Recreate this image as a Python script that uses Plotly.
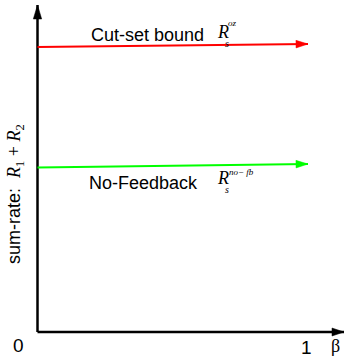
import math
import plotly.graph_objects as go

# ---- data ----
beta = [0, 1]
cutset_bound = [2.85, 2.88]
no_feedback = [1.645, 1.68]
series_names = ["Cut-set bound", "No-Feedback"]
tick_labels = ["0", "1"]

W, H = 344, 358
X0_PX, X_SCALE = 37.5, 270.5     # pixel of x=0, pixels per unit
Y0_PX, Y_SCALE = 332.0, 100.0    # pixel of y=0, pixels per unit


def dx(px):
    return (px - X0_PX) / X_SCALE


def dy(py):
    return (Y0_PX - py) / Y_SCALE


def head(xs, ys, length, half):
    """filled arrowhead polygon at the last point of (xs, ys), sized in pixels"""
    x1p, y1p = X0_PX + xs[-1] * X_SCALE, Y0_PX - ys[-1] * Y_SCALE
    x0p, y0p = X0_PX + xs[-2] * X_SCALE, Y0_PX - ys[-2] * Y_SCALE
    d = math.hypot(x1p - x0p, y1p - y0p)
    ux, uy = (x1p - x0p) / d, (y1p - y0p) / d
    bx, by = x1p - ux * length, y1p - uy * length
    pts = [(x1p, y1p), (bx - uy * half, by + ux * half), (bx + uy * half, by - ux * half), (x1p, y1p)]
    return [dx(p[0]) for p in pts], [dy(p[1]) for p in pts]


fig = go.Figure()


def arrow_line(xs, ys, col, width, length, half, name=None):
    fig.add_trace(go.Scatter(x=xs, y=ys, mode="lines", name=name,
                             line=dict(color=col, width=width),
                             hoverinfo="skip", showlegend=False))
    hx, hy = head(xs, ys, length, half)
    fig.add_trace(go.Scatter(x=hx, y=hy, mode="lines", fill="toself", fillcolor=col,
                             line=dict(color=col, width=0.5),
                             hoverinfo="skip", showlegend=False))


# axes
arrow_line([0, dx(344)], [0, 0], "black", 2.5, 12, 4)
arrow_line([0, 0], [0, dy(5)], "black", 2.5, 14, 4.2)

# data lines
arrow_line(beta, cutset_bound, "#ff0000", 2.2, 12, 3.8, series_names[0])
arrow_line(beta, no_feedback, "#00ff00", 2.2, 12, 3.8, series_names[1])

SANS = "Liberation Sans, Arial, sans-serif"
SERIF = "Liberation Serif, Times New Roman, serif"

ann = []


def text(s, xp, yp, size=18, family=SANS, xanchor="left", angle=0):
    ann.append(dict(x=dx(xp), y=dy(yp), xref="x", yref="y", text=s, showarrow=False,
                    xanchor=xanchor, yanchor="middle", textangle=angle,
                    font=dict(family=family, size=size, color="black")))


text(series_names[0], 89, 35)
text(series_names[1], 87, 183)

# math labels R_s^{...}
text("<i>R</i>", 215, 32, size=18, family=SERIF)
text("<i>s</i>", 223, 43, size=10, family=SERIF)
text("<i>oz</i>", 226, 23, size=9, family=SERIF)

text("<i>R</i>", 215, 178, size=18, family=SERIF)
text("<i>s</i>", 223, 189, size=10, family=SERIF)
text("<i>no\u2212 fb</i>", 227, 172, size=9, family=SERIF)

# ticks
text(tick_labels[0], 18, 345, size=19, xanchor="center")
text(tick_labels[1], 306, 347, size=19, xanchor="center")
text("\u03b2", 335, 346, size=18, family=SERIF, xanchor="center")

# y-axis title
text("sum-rate:  <span style='font-family:Liberation Serif'><i>R</i><sub>1</sub> + <i>R</i><sub>2</sub></span>",
     15, 194, size=18, xanchor="center", angle=-90)

fig.update_layout(
    width=W, height=H,
    margin=dict(l=0, r=0, t=0, b=0),
    paper_bgcolor="white", plot_bgcolor="white",
    xaxis=dict(range=[dx(0), dx(W)], visible=False, fixedrange=True),
    yaxis=dict(range=[dy(H), dy(0)], visible=False, fixedrange=True),
    annotations=ann,
)

fig.write_html("out.html", config=dict(displayModeBar=False),
               post_script="document.body.style.margin='0px';document.body.style.overflow='hidden';")
